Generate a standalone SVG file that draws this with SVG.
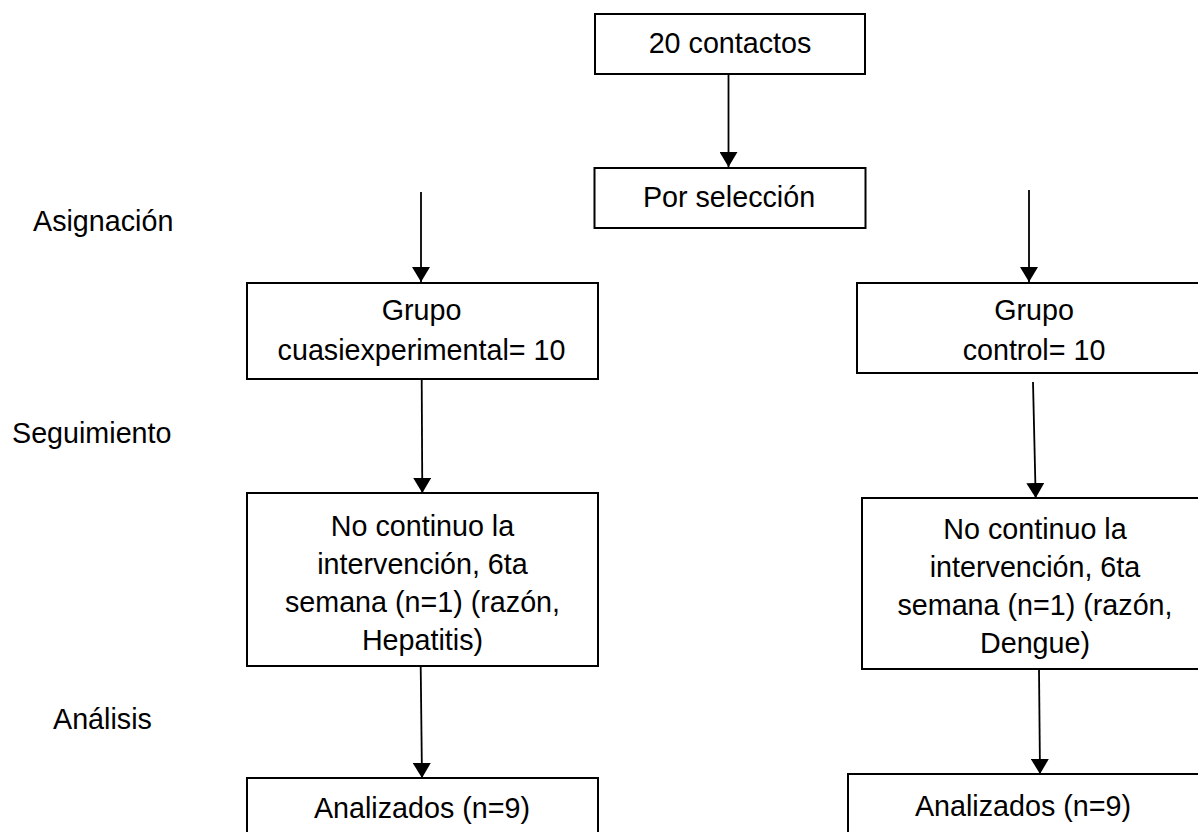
<svg xmlns="http://www.w3.org/2000/svg" width="1198" height="832" viewBox="0 0 1198 832">
<defs>
<style>
.box{fill:#ffffff;stroke:#000000;stroke-width:2}
.t{font-family:"Liberation Sans",Arial,sans-serif;font-size:28.7px;fill:#000000;text-anchor:middle}
.lbl{font-family:"Liberation Sans",Arial,sans-serif;font-size:28.7px;fill:#000000}
.c{stroke:#000000;stroke-width:1.8;fill:none;marker-end:url(#ah)}
</style>
<marker id="ah" viewBox="0 0 15 18" refX="15" refY="9" markerWidth="15" markerHeight="18" markerUnits="userSpaceOnUse" orient="auto">
<path d="M0,0 L15,9 L0,18 Z" fill="#000000"/>
</marker>
</defs>
<rect width="1198" height="832" fill="#ffffff"/>
<g id="labels">
<text class="lbl" x="33" y="231">Asignación</text>
<text class="lbl" x="12" y="443">Seguimiento</text>
<text class="lbl" x="53" y="729">Análisis</text>
</g>
<g id="connectors">
<line class="c" x1="728.5" y1="74" x2="728.5" y2="167"/>
<line class="c" x1="421" y1="192" x2="421" y2="282"/>
<line class="c" x1="1029" y1="190" x2="1029" y2="282"/>
<line class="c" x1="421.7" y1="379" x2="422.3" y2="493"/>
<line class="c" x1="1033" y1="382" x2="1035.7" y2="498"/>
<line class="c" x1="420.7" y1="666" x2="422" y2="778"/>
<line class="c" x1="1039" y1="669" x2="1040" y2="774"/>
</g>
<g id="n-contactos">
<rect class="box" x="595" y="14" width="270" height="60"/>
<text class="t" x="730" y="53">20 contactos</text>
</g>
<g id="n-seleccion">
<rect class="box" x="594.5" y="168" width="271" height="60"/>
<text class="t" x="729" y="207">Por selección</text>
</g>
<g id="n-grupo-cuasi">
<rect class="box" x="247" y="283" width="351" height="96"/>
<text class="t" x="421.5" y="320">Grupo</text>
<text class="t" x="421.5" y="360">cuasiexperimental= 10</text>
</g>
<g id="n-grupo-control">
<rect class="box" x="857" y="283" width="354" height="90"/>
<text class="t" x="1034" y="320">Grupo</text>
<text class="t" x="1034" y="360">control= 10</text>
</g>
<g id="n-nocontinuo-izq">
<rect class="box" x="247" y="493" width="351" height="173"/>
<text class="t" x="422.5" y="536">No continuo la</text>
<text class="t" x="422.5" y="574">intervención, 6ta</text>
<text class="t" x="422.5" y="612">semana (n=1) (razón,</text>
<text class="t" x="422.5" y="650">Hepatitis)</text>
</g>
<g id="n-nocontinuo-der">
<rect class="box" x="862" y="498" width="348" height="171"/>
<text class="t" x="1035" y="539">No continuo la</text>
<text class="t" x="1035" y="577">intervención, 6ta</text>
<text class="t" x="1035" y="615">semana (n=1) (razón,</text>
<text class="t" x="1035" y="653">Dengue)</text>
</g>
<g id="n-analizados-izq">
<rect class="box" x="247" y="778" width="351" height="80"/>
<text class="t" x="422" y="818">Analizados (n=9)</text>
</g>
<g id="n-analizados-der">
<rect class="box" x="848" y="774" width="360" height="80"/>
<text class="t" x="1023" y="816">Analizados (n=9)</text>
</g>
</svg>
